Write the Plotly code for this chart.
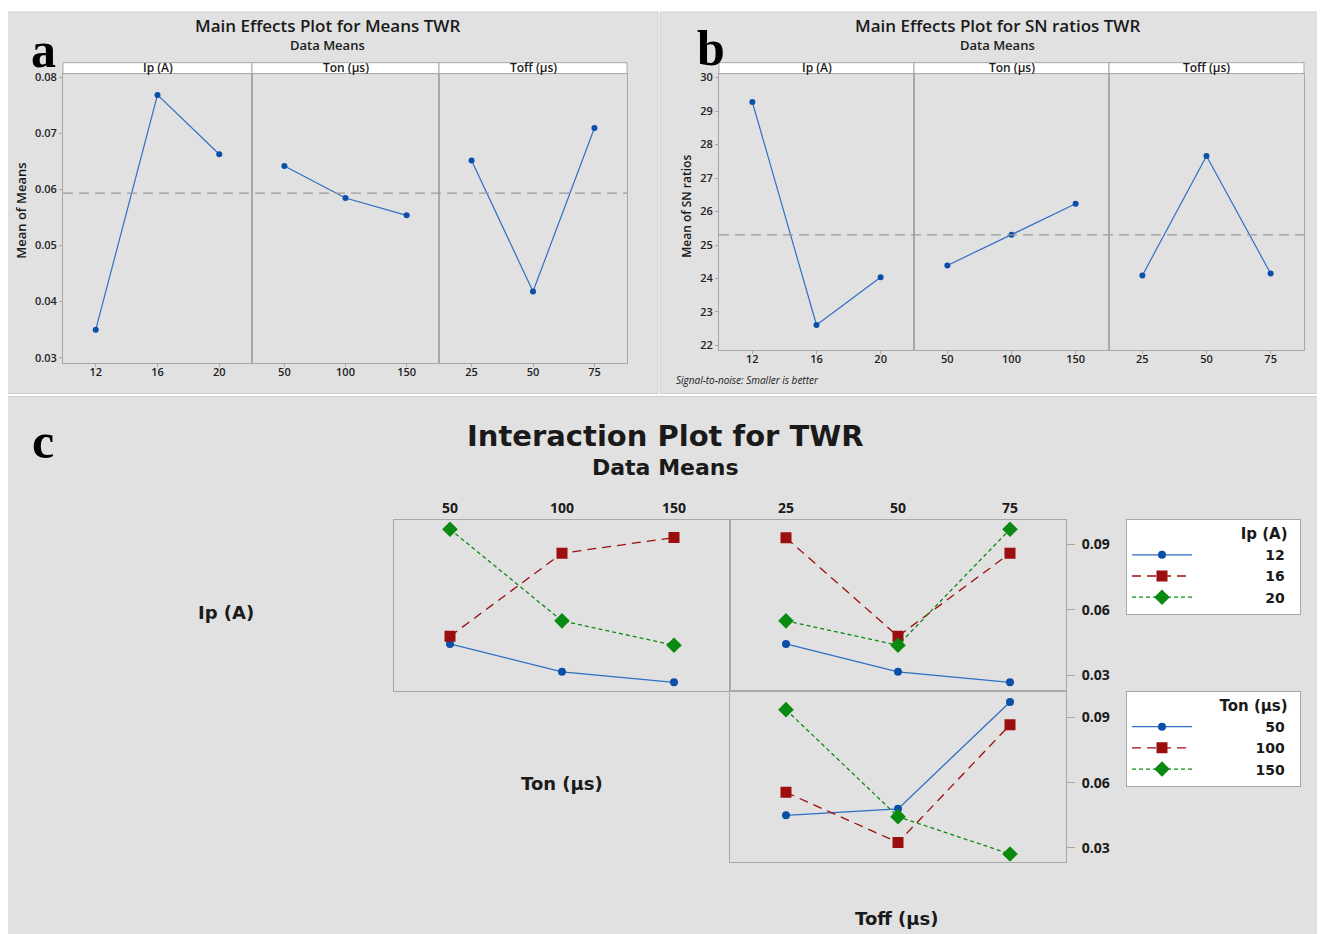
import plotly.graph_objects as go

# page is rendered with an 8px body margin; figure is sized/placed to map page pixels
OFF = 8
W, H = 1325 - OFF, 934 - OFF

# ---------------- data ----------------
ip_levels = ["12", "16", "20"]
ton_levels = ["50", "100", "150"]
toff_levels = ["25", "50", "75"]

means_ip = [0.0350, 0.0769, 0.0663]
means_ton = [0.0642, 0.0585, 0.0554]
means_toff = [0.0652, 0.0418, 0.0710]

sn_ip = [29.27, 22.61, 24.04]
sn_ton = [24.39, 25.31, 26.23]
sn_toff = [24.09, 27.66, 24.15]

# interaction: Ip lines vs Ton
ip12_vs_ton = [0.0444, 0.0316, 0.0268]
ip16_vs_ton = [0.0479, 0.0860, 0.0932]
ip20_vs_ton = [0.0970, 0.0550, 0.0438]
# interaction: Ip lines vs Toff
ip12_vs_toff = [0.0444, 0.0316, 0.0268]
ip16_vs_toff = [0.0931, 0.0479, 0.0860]
ip20_vs_toff = [0.0550, 0.0438, 0.0970]
# interaction: Ton lines vs Toff
ton50_vs_toff = [0.0449, 0.0479, 0.0971]
ton100_vs_toff = [0.0555, 0.0324, 0.0866]
ton150_vs_toff = [0.0936, 0.0443, 0.0271]

# ---------------- helpers ----------------
def PX(p):
    return (p - OFF) / W

def PY(p):
    return 1 - (p - OFF) / H

FONT = "Open Sans"
WIDE = "DejaVu Sans"
BLUE = "#0a4fa8"
BLUE_L = "#2f6fc4"
RED = "#9c0d0d"
GREEN = "#0b8a12"
FRAME = "#a8a8a8"
BG = "#e1e1e1"
TXT = "#1a1a1a"

fig = go.Figure()
layout = dict(
    width=W, height=H, margin=dict(l=0, r=0, t=0, b=0),
    paper_bgcolor="white", plot_bgcolor="white", showlegend=True,
    font=dict(family=FONT, color=TXT),
)
shapes = []
annotations = []

# panel backgrounds
shapes.append(dict(type="rect", xref="paper", yref="paper", x0=PX(5), x1=PX(658), y0=PY(392), y1=PY(8),
                   fillcolor=BG, line=dict(color="#cdcdcd", width=1), layer="below"))
shapes.append(dict(type="rect", xref="paper", yref="paper", x0=PX(660), x1=PX(1330), y0=PY(392), y1=PY(8),
                   fillcolor=BG, line=dict(color="#cdcdcd", width=1), layer="below"))
shapes.append(dict(type="rect", xref="paper", yref="paper", x0=PX(5), x1=PX(1330), y0=PY(940), y1=PY(395),
                   fillcolor=BG, line=dict(color="#cdcdcd", width=1), layer="below"))

tickfont = dict(family=FONT, size=11, color="#222", weight=600)

def main_effects(start_idx, facets, ydom, yrange, dtick, tickformat, xr, datas, levels_list,
                 strip_names, mean_val):
    for i, ((x0, x1), ys, levels, sname) in enumerate(zip(facets, datas, levels_list, strip_names)):
        k = start_idx + i
        xa = "xaxis" if k == 1 else f"xaxis{k}"
        ya = "yaxis" if k == 1 else f"yaxis{k}"
        xr_ = "x" if k == 1 else f"x{k}"
        yr_ = "y" if k == 1 else f"y{k}"
        fig.add_trace(go.Scatter(x=levels, y=ys, mode="lines+markers", xaxis=xr_, yaxis=yr_,
                                 line=dict(color=BLUE_L, width=1.2),
                                 marker=dict(color=BLUE, size=6, symbol="circle"),
                                 showlegend=False, hoverinfo="x+y"))
        layout[xa] = dict(domain=[PX(x0), PX(x1)], anchor=yr_, type="category", range=list(xr),
                          showline=True, mirror=True, linecolor=FRAME, linewidth=1,
                          ticks="outside", ticklen=3, tickcolor=FRAME, tickfont=tickfont,
                          ticklabelstandoff=-4,
                          showgrid=False, zeroline=False, fixedrange=True)
        first = (i == 0)
        layout[ya] = dict(domain=[PY(ydom[1]), PY(ydom[0])], anchor=xr_, range=list(yrange),
                          showline=True, mirror=True, linecolor=FRAME, linewidth=1,
                          ticks="outside" if first else "", ticklen=3, tickcolor=FRAME,
                          showticklabels=first, dtick=dtick, tickformat=tickformat,
                          tickfont=tickfont, showgrid=False, zeroline=False, fixedrange=True)
        # strip
        shapes.append(dict(type="rect", xref="paper", yref="paper", x0=PX(x0), x1=PX(x1),
                           y0=PY(70), y1=PY(59), fillcolor="white",
                           line=dict(color=FRAME, width=1)))
        annotations.append(dict(text=sname, xref="paper", yref="paper", x=PX((x0 + x1) / 2), y=PY(64),
                                showarrow=False, xanchor="center", yanchor="middle",
                                font=dict(family=FONT, size=12, color=TXT, weight=600)))
    # grand mean reference line
    yref_first = "y" if start_idx == 1 else f"y{start_idx}"
    shapes.append(dict(type="line", xref="paper", yref=yref_first, x0=PX(facets[0][0]), x1=PX(facets[-1][1]),
                       y0=mean_val, y1=mean_val, line=dict(color="#9a9a9a", width=1.2, dash="10px,6px")))

all_means = means_ip + means_ton + means_toff
all_sn = sn_ip + sn_ton + sn_toff
main_effects(1, [(63, 252), (252, 439), (439, 627)], (70, 361), (0.0291, 0.0807), 0.01, ".2f",
             (-0.53, 2.53), [means_ip, means_ton, means_toff], [ip_levels, ton_levels, toff_levels],
             ["Ip (A)", "Ton (μs)", "Toff (μs)"], sum(all_means) / len(all_means))
main_effects(4, [(719, 914), (914, 1109), (1109, 1304)], (70, 348), (21.87, 30.12), 1, "d",
             (-0.52, 2.52), [sn_ip, sn_ton, sn_toff], [ip_levels, ton_levels, toff_levels],
             ["Ip (A)", "Ton (μs)", "Toff (μs)"], sum(all_sn) / len(all_sn))

# titles panel a / b
for cx, t1 in [(327, "Main Effects Plot for Means TWR"), (997, "Main Effects Plot for SN ratios TWR")]:
    annotations.append(dict(text=t1, xref="paper", yref="paper", x=PX(cx), y=PY(22), showarrow=False,
                            xanchor="center", yanchor="middle",
                            font=dict(family=FONT, size=17, color=TXT, weight=600)))
    annotations.append(dict(text="Data Means", xref="paper", yref="paper", x=PX(cx), y=PY(41), showarrow=False,
                            xanchor="center", yanchor="middle",
                            font=dict(family=FONT, size=13, color=TXT, weight=600)))
annotations.append(dict(text="Mean of Means", xref="paper", yref="paper", x=PX(21), y=PY(208), showarrow=False,
                        textangle=-90, xanchor="center", yanchor="middle",
                        font=dict(family=FONT, size=13, color=TXT, weight=600)))
annotations.append(dict(text="Mean of SN ratios", xref="paper", yref="paper", x=PX(687), y=PY(204),
                        showarrow=False, textangle=-90, xanchor="center", yanchor="middle",
                        font=dict(family=FONT, size=12, color=TXT, weight=600)))
annotations.append(dict(text="<i>Signal-to-noise: Smaller is better</i>", xref="paper", yref="paper",
                        x=PX(674), y=PY(378), showarrow=False, xanchor="left", yanchor="middle",
                        font=dict(family=FONT, size=10, color=TXT)))
# panel letters
for letter, cx, cy in [("a", 43, 46), ("b", 711, 44), ("c", 43, 440)]:
    annotations.append(dict(text=f"<b>{letter}</b>", xref="paper", yref="paper", x=PX(cx), y=PY(cy),
                            showarrow=False, xanchor="center", yanchor="middle",
                            font=dict(family="Liberation Serif", size=50, color="black")))

# ---------------- interaction plot ----------------
styles = [
    dict(line=dict(color=BLUE_L, width=1.3), marker=dict(color=BLUE, size=8, symbol="circle")),
    dict(line=dict(color=RED, width=1.3, dash="9px,6px"), marker=dict(color=RED, size=11, symbol="square")),
    dict(line=dict(color=GREEN, width=1.3, dash="4px,3px"), marker=dict(color=GREEN, size=12, symbol="diamond")),
]

cells = [
    (7, (394, 730), (519, 691), ton_levels, [ip12_vs_ton, ip16_vs_ton, ip20_vs_ton], ip_levels, "legend", True, False, (0.0230, 0.1014)),
    (8, (730, 1066), (519, 691), toff_levels, [ip12_vs_toff, ip16_vs_toff, ip20_vs_toff], ip_levels, None, True, True, (0.0230, 0.1014)),
    (9, (730, 1066), (691, 864), toff_levels, [ton50_vs_toff, ton100_vs_toff, ton150_vs_toff], ton_levels, "legend2", False, True, (0.0232, 0.1024)),
]

FS = "\u2007"

def padded(nm):
    return FS * (9 - len(nm)) + nm + FS

for k, (x0, x1), (y0, y1), levels, series, names, leg, top_ticks, right_ticks, yr in cells:
    for s, ys, nm in zip(styles, series, names):
        fig.add_trace(go.Scatter(x=levels, y=ys, mode="lines+markers", xaxis=f"x{k}", yaxis=f"y{k}",
                                 line=s["line"], marker=s["marker"], name=padded(nm),
                                 showlegend=leg is not None, legend=leg if leg else "legend",
                                 hoverinfo="x+y"))
    layout[f"xaxis{k}"] = dict(domain=[PX(x0), PX(x1)], anchor=f"y{k}", type="category", range=[-0.5, 2.5],
                               side="top", showline=True, mirror=True, linecolor=FRAME, linewidth=1,
                               ticks="", showticklabels=top_ticks,
                               tickfont=dict(family=FONT, size=14, color=TXT, weight=700),
                               showgrid=False, zeroline=False, fixedrange=True)
    layout[f"yaxis{k}"] = dict(domain=[PY(y1), PY(y0)], anchor=f"x{k}", range=list(yr), side="right",
                               showline=True, mirror=True, linecolor=FRAME, linewidth=1,
                               ticks="outside" if right_ticks else "", ticklen=8, tickcolor=FRAME,
                               ticklabelstandoff=4,
                               showticklabels=right_ticks, tickvals=[0.03, 0.06, 0.09], tickformat=".2f",
                               tickfont=dict(family=FONT, size=14, color=TXT, weight=700),
                               showgrid=False, zeroline=False, fixedrange=True)

annotations.append(dict(text="<b>Interaction Plot for TWR</b>", xref="paper", yref="paper", x=PX(665), y=PY(435),
                        showarrow=False, xanchor="center", yanchor="middle",
                        font=dict(family=WIDE, size=29, color=TXT)))
annotations.append(dict(text="<b>Data Means</b>", xref="paper", yref="paper", x=PX(665), y=PY(466),
                        showarrow=False, xanchor="center", yanchor="middle",
                        font=dict(family=WIDE, size=22, color=TXT)))
for txt, cx, cy in [("Ip (A)", 226, 612), ("Ton (μs)", 562, 785), ("Toff (μs)", 897, 920)]:
    annotations.append(dict(text=f"<b>{txt}</b>", xref="paper", yref="paper", x=PX(cx), y=PY(cy), showarrow=False,
                            xanchor="center", yanchor="middle",
                            font=dict(family=WIDE, size=18, color=TXT)))

legend_common = dict(xref="paper", yref="paper", xanchor="left", yanchor="top",
                     bgcolor="white", bordercolor=FRAME, borderwidth=1, itemwidth=60,
                     tracegroupgap=0, font=dict(family=WIDE, size=14, color=TXT, weight=700),
                     itemclick=False, itemdoubleclick=False)
layout["legend"] = dict(legend_common, x=PX(1126), y=PY(518),
                        title=dict(text="Ip (A)" + FS, side="top right",
                                   font=dict(family=WIDE, size=15, color=TXT, weight=700)))
layout["legend2"] = dict(legend_common, x=PX(1126), y=PY(691),
                         title=dict(text="Ton (μs)" + FS, side="top right",
                                    font=dict(family=WIDE, size=15, color=TXT, weight=700)))

layout["shapes"] = shapes
layout["annotations"] = annotations
fig.update_layout(**layout)
fig.write_html("out.html")
